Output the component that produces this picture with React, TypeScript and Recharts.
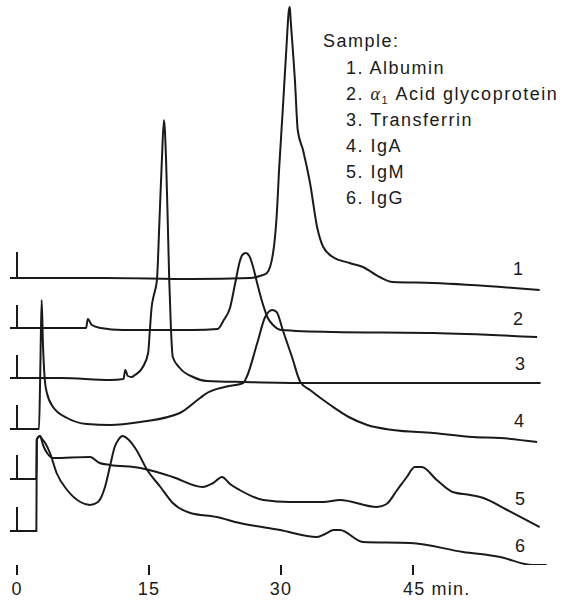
import React from 'react';
import { LineChart, Line, XAxis, YAxis } from 'recharts';

// [retention time (min), detector response above the trace's own baseline]
const albumin: [number, number][] = [
  [-0.8, 0], [0, 0], [0, 26], [0, 0], [10, 0], [20, -1], [26.5, 0], [27.6, 2], [28.4, 5],
  [29.1, 25], [29.5, 61], [29.8, 111], [30.2, 168], [30.6, 228], [30.9, 268], [31.0, 271],
  [31.1, 258], [31.6, 195], [31.9, 148], [32.5, 128], [33.3, 95], [34.1, 51], [34.8, 31],
  [35.9, 21], [37.8, 15], [39.3, 11], [41.2, 1], [42.7, -4], [47.3, -5], [59.4, -12],
];
const acidGlycoprotein: [number, number][] = [
  [-0.8, 0], [0, 0], [0, 23], [0, 0], [7.85, 0], [8.05, 9], [8.5, 3], [9.5, 0], [12, -2],
  [20, -2], [22.8, -1], [23.5, 8], [24.2, 20], [24.8, 45], [25.3, 66], [25.6, 73], [26.0, 75],
  [26.4, 72], [26.8, 62], [27.2, 48], [27.9, 25], [28.5, 10], [29.1, 3], [30.0, -2],
  [35.9, -4], [47.3, -5], [59.1, -9],
];
const transferrin: [number, number][] = [
  [-0.8, 0], [0, 0], [0, 23], [0, 0], [5, 0], [10.6, -2], [12.1, -1], [12.3, 8], [12.6, 2],
  [13.0, 1], [13.4, 3], [14.3, 11], [14.9, 25], [15.1, 48], [15.3, 71], [15.5, 81], [15.7, 88],
  [15.9, 98], [16.2, 160], [16.45, 215], [16.7, 258], [16.95, 215], [17.15, 150], [17.3, 98],
  [17.5, 48], [17.7, 21], [18.5, 10], [20.0, 1], [21.6, -3], [25.9, -4], [33, -5], [59.5, -5],
];
const igA: [number, number][] = [
  [-0.8, 0], [0, 0], [0, 24], [0, 0], [2.5, 0], [2.65, 60], [2.8, 129], [2.95, 85], [3.15, 50],
  [3.4, 36], [4.1, 22], [5.7, 11], [7.95, 5], [10.6, 4], [14.0, 7], [18.5, 16], [20.8, 31],
  [21.6, 36], [23.6, 42], [25.7, 46], [26.1, 52], [27.3, 86], [28.2, 112], [29.0, 119],
  [29.5, 117], [30.2, 99], [31.25, 72], [32.2, 47], [33.3, 39], [35.6, 24], [37.7, 12],
  [39.8, 4], [42.7, -1], [47.3, -4], [51.8, -8], [54.9, -9], [59.1, -13],
];
const igM: [number, number][] = [
  [-0.8, 0], [0, 0], [0, 24], [0, 0], [2.2, 0], [2.25, 40], [2.6, 43], [3.0, 33], [3.5, 25],
  [4.1, 21], [8.3, 22], [9.4, 16], [10.6, 14], [14.0, 11], [15.9, 7], [17.7, 2], [21.1, -8],
  [22.3, -4], [23.3, 2], [24.2, -5], [25.3, -11], [28.0, -21], [31.0, -23], [34.8, -23],
  [36.7, -21], [40.9, -28], [42.0, -25], [43.2, -11], [44.3, 2], [45.2, 12], [46.0, 12],
  [47.7, -1], [49.5, -13], [51.5, -16], [53.0, -19], [55.7, -31], [59.4, -48],
];
const igG: [number, number][] = [
  [-0.8, 0], [0, 0], [0, 24], [0, 0], [2.2, 0], [2.25, 91], [2.6, 95], [2.85, 92], [3.2, 88],
  [3.75, 78], [4.5, 58], [5.7, 41], [7.2, 29], [8.3, 26], [9.2, 29], [10.0, 44], [10.6, 66],
  [11.1, 84], [11.5, 91], [12.0, 95], [12.6, 92], [13.5, 82], [14.8, 61], [16.3, 44],
  [17.7, 28], [19.7, 18], [22.7, 14], [25.3, 8], [29.9, 1], [34.1, -6], [35.0, -3], [36.0, 1],
  [36.7, 1], [39.3, -11], [44.7, -12], [50.7, -21], [54.9, -26], [58.6, -34], [60.2, -34],
];

const traces = [albumin, acidGlycoprotein, transferrin, igA, igM, igG];
// each trace is stacked on its own baseline
const traceOffsets = [287, 237, 187, 136, 86, 34];
const traceNumbers = ['1', '2', '3', '4', '5', '6'];
const sampleNames = ['Albumin', 'Acid glycoprotein', 'Transferrin', 'IgA', 'IgM', 'IgG'];
const timeTicks = [0, 15, 30, 45];

const font = '"Liberation Sans", Arial, Helvetica, sans-serif';
const ink = '#1a1a1a';

const seriesData = traces.map((pts, i) => pts.map(([t, v]) => ({ t, v: v + traceOffsets[i] })));

const TimeTick = ({ x, y, payload }: any) => {
  const last = payload.value === 45;
  return (
    <text
      x={last ? x - 10 : x}
      y={y + 17.5}
      textAnchor={last ? 'start' : 'middle'}
      fontFamily={font}
      fontSize={18}
      letterSpacing={1.2}
      fill={ink}
    >
      {last ? '45 min.' : payload.value}
    </text>
  );
};

// right-hand trace numbers (text centre positions)
const numberPos = [
  [518, 268], [518, 318], [520, 363], [519, 420], [520, 498], [520, 545],
];

export default function App() {
  return (
    <div style={{ position: 'absolute', left: 0, top: 0, width: 565, height: 600, overflow: 'hidden', background: '#fff' }}>
      <LineChart width={565} height={600} margin={{ top: 0, right: 11.2, bottom: 0, left: 8.2 }}>
        <XAxis
          type="number"
          dataKey="t"
          domain={[-1, 61]}
          ticks={timeTicks}
          allowDataOverflow
          height={35}
          axisLine={false}
          tickSize={10}
          tickLine={{ stroke: ink, strokeWidth: 2 }}
          tick={<TimeTick />}
          interval={0}
        />
        <YAxis type="number" dataKey="v" domain={[0, 565]} allowDataOverflow hide />
        {seriesData.map((d, i) => (
          <Line
            key={traceNumbers[i]}
            data={d}
            dataKey="v"
            name={sampleNames[i]}
            type="monotoneX"
            stroke={ink}
            strokeWidth={2}
            dot={false}
            activeDot={false}
            isAnimationActive={false}
          />
        ))}
      </LineChart>
      <svg
        width={565}
        height={600}
        style={{ position: 'absolute', left: 0, top: 0, pointerEvents: 'none' }}
        fontFamily={font}
        fontSize={18}
        fill={ink}
      >
        <text x={323} y={47} letterSpacing={1.5}>Sample:</text>
        {sampleNames.map((name, i) => (
          <text key={name} x={346} y={73.5 + i * 26} letterSpacing={1.5}>
            {i === 1 ? (
              <>
                {'2. '}
                <tspan fontStyle="italic" fontFamily='"Liberation Serif", serif'>α</tspan>
                <tspan fontSize={11} dy={4}>1</tspan>
                <tspan dy={-4}>{' ' + name}</tspan>
              </>
            ) : (
              `${i + 1}. ${name}`
            )}
          </text>
        ))}
        {numberPos.map(([x, y], i) => (
          <text key={i} x={x} y={y + 6.5} textAnchor="middle">
            {traceNumbers[i]}
          </text>
        ))}
      </svg>
    </div>
  );
}
